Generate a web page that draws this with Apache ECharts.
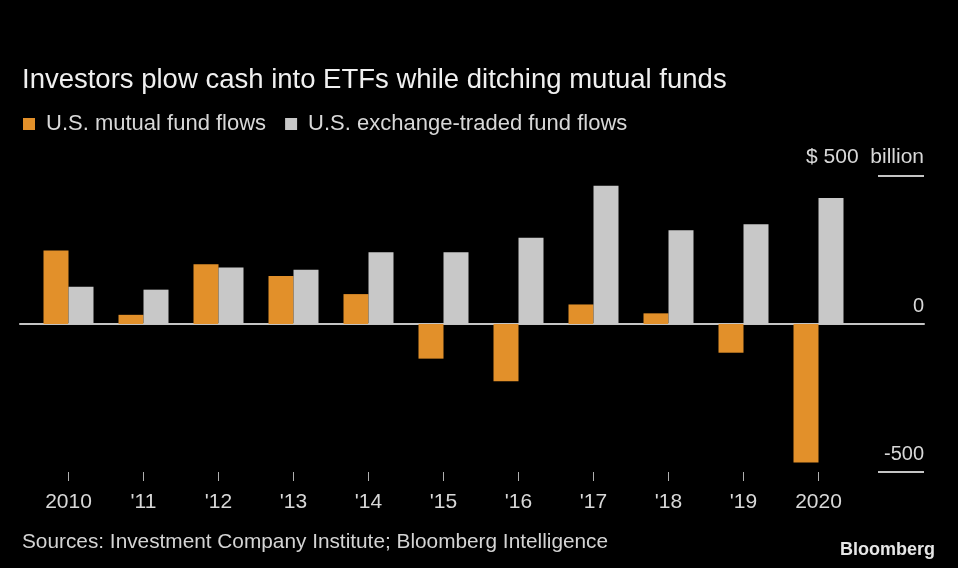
<!DOCTYPE html>
<html>
<head>
<meta charset="utf-8">
<script src="https://cdn.jsdelivr.net/npm/echarts@6/dist/echarts.min.js"></script>
<style>
html,body{margin:0;padding:0;background:#000;}
#chart{width:958px;height:568px;}
</style>
</head>
<body>
<div id="chart"></div>
<script>
var categories = ['2010', "'11", "'12", "'13", "'14", "'15", "'16", "'17", "'18", "'19", '2020'];
var mutualFundFlows = [248, 31, 202, 162, 101, -117, -193, 66, 36, -97, -468];
var etfFlows = [126, 116, 191, 183, 242, 242, 291, 467, 317, 337, 426];
var yTicks = [-500, 0, 500];
var titleText = 'Investors plow cash into ETFs while ditching mutual funds';
var sourceText = 'Sources: Investment Company Institute; Bloomberg Intelligence';
var seriesNames = ['U.S. mutual fund flows', 'U.S. exchange-traded fund flows'];

var FONT = "'Liberation Sans', Arial, sans-serif";
var ORANGE = '#e2902a';
var GRAY = '#c8c8c8';
var LINE = '#c4c4c4';
var yMin = yTicks[0], yMax = yTicks[yTicks.length - 1], yStep = yTicks[1] - yTicks[0];

var chart = echarts.init(document.getElementById('chart'), null, {renderer: 'canvas'});
chart.setOption({
  backgroundColor: '#000',
  animation: false,
  title: [
    {text: titleText, left: 17, top: 61,
     textStyle: {color: '#f0f0f0', fontSize: 27.5, fontWeight: 'normal', fontFamily: FONT}},
    {text: sourceText, left: 17, top: 527,
     textStyle: {color: '#d4d4d4', fontSize: 20.8, fontWeight: 'normal', fontFamily: FONT}},
    {text: 'Bloomberg', right: 18, top: 536,
     textStyle: {color: '#e6e6e6', fontSize: 18, fontWeight: 'bold', fontFamily: FONT}}
  ],
  legend: {
    left: 18, top: 108,
    icon: 'rect', itemWidth: 12, itemHeight: 12, itemGap: 19,
    textStyle: {color: '#d8d8d8', fontSize: 22, fontFamily: FONT, padding: [0, 0, 0, 6]},
    data: seriesNames
  },
  grid: [
    {left: 31, right: 102, top: 176, bottom: 96},
    {left: 20, right: 34, top: 176, bottom: 96},
    {left: 878, right: 34, top: 176, bottom: 96}
  ],
  xAxis: [
    {type: 'category', gridIndex: 0, data: categories, position: 'bottom',
     axisLine: {show: false, onZero: false},
     axisTick: {show: true, alignWithLabel: true, length: 9, lineStyle: {color: '#b0b0b0', width: 1}},
     axisLabel: {color: '#d8d8d8', fontSize: 21, fontFamily: FONT, margin: 20},
     splitLine: {show: false}},
    {type: 'value', gridIndex: 1, min: 0, max: 1,
     axisLine: {show: true, onZero: true, lineStyle: {color: LINE, width: 2}},
     axisTick: {show: false}, axisLabel: {show: false}, splitLine: {show: false}},
    {type: 'value', gridIndex: 2, min: 0, max: 1, show: false}
  ],
  yAxis: [
    {type: 'value', gridIndex: 0, min: yMin, max: yMax, interval: yStep, show: false},
    {type: 'value', gridIndex: 1, min: yMin, max: yMax, interval: yStep,
     axisLine: {show: false}, axisTick: {show: false}, axisLabel: {show: false}, splitLine: {show: false}},
    {type: 'value', gridIndex: 2, min: yMin, max: yMax, interval: yStep, position: 'right',
     axisLine: {show: false}, axisTick: {show: false},
     splitLine: {show: true, lineStyle: {color: LINE, width: 2}},
     axisLabel: {inside: true, margin: 0, verticalAlign: 'bottom', padding: [0, 0, 8, 0],
       color: '#d8d8d8', fontSize: 20, fontFamily: FONT,
       rich: {big: {color: '#d8d8d8', fontSize: 21, fontFamily: FONT}},
       formatter: function (v) { return v === yMax ? '{big|$ ' + v + '  billion}' : String(v); }}}
  ],
  series: [
    {name: seriesNames[0], type: 'bar', xAxisIndex: 0, yAxisIndex: 0, data: mutualFundFlows,
     barWidth: 25, barGap: '0%', itemStyle: {color: ORANGE}, z: 3},
    {name: seriesNames[1], type: 'bar', xAxisIndex: 0, yAxisIndex: 0, data: etfFlows,
     barWidth: 25, barGap: '0%', itemStyle: {color: GRAY}, z: 3}
  ]
});
</script>
</body>
</html>
